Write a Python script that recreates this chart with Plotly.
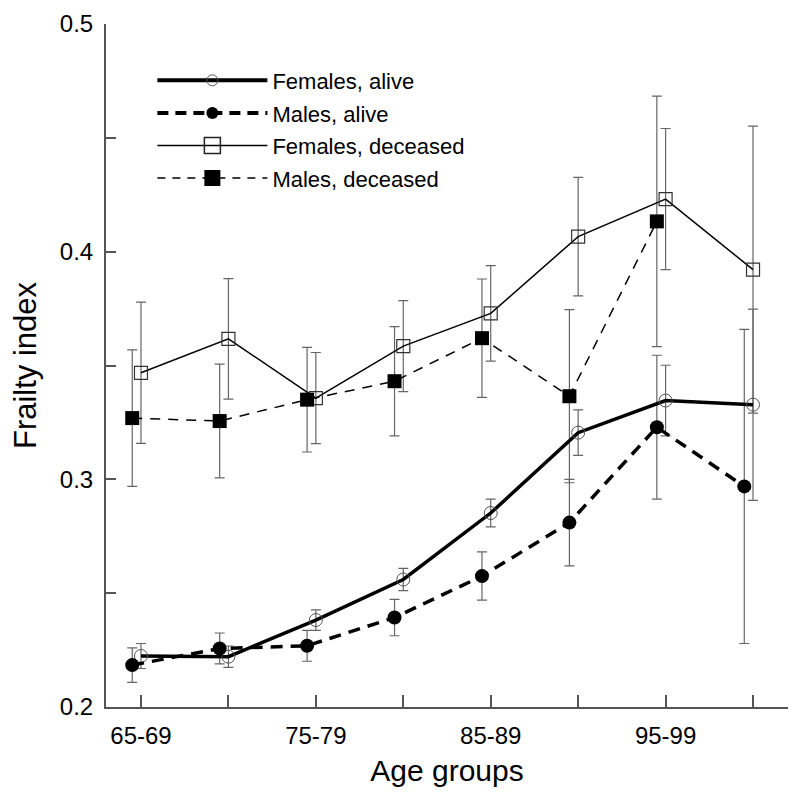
import numpy as np
import plotly.graph_objects as go

groups = ["65-69", "70-74", "75-79", "80-84", "85-89", "90-94", "95-99", "100+"]
x_labels = ["65-69", "", "75-79", "", "85-89", "", "95-99", ""]

female_alive = [0.2224, 0.2221, 0.2382, 0.2560, 0.2852, 0.3205, 0.3346, 0.3328]
female_alive_err = [0.0055, 0.0047, 0.0045, 0.0049, 0.0061, 0.0100, 0.0155, 0.042]
male_alive = [0.2184, 0.2257, 0.2269, 0.2393, 0.2575, 0.2810, 0.3229, 0.2969]
male_alive_err = [0.0076, 0.0068, 0.0068, 0.0080, 0.0106, 0.019, 0.0316, 0.069]
female_dec = [0.3468, 0.3617, 0.3357, 0.3585, 0.3729, 0.4066, 0.4231, 0.3921]
female_dec_err = [0.031, 0.0265, 0.020, 0.020, 0.021, 0.026, 0.031, 0.063]
male_dec = [0.3269, 0.3256, 0.3350, 0.3431, 0.3620, 0.3365, 0.4133]
male_dec_err = [0.030, 0.025, 0.023, 0.024, 0.026, 0.038, 0.055]

y_ticks = [0.2, 0.25, 0.3, 0.35, 0.4, 0.45, 0.5]
y_labels = ["0.2", "", "0.3", "", "0.4", "", "0.5"]

idx = np.arange(len(groups))
male_offset = -0.1
x_f = idx
x_m = idx + male_offset
x_md = np.arange(len(male_dec)) + male_offset

FONT = "Liberation Sans, Arial, sans-serif"
ERR_COLOR = "#666666"

fig = go.Figure()

# name, x, y, err, line, marker (plot), line (legend), marker (legend), rank
series = [
    ("Females, deceased", x_f, female_dec, female_dec_err,
     dict(color="black", width=1.5),
     dict(symbol="square-open", size=13, color="#333333", line=dict(width=1.2)),
     dict(color="black", width=1.5),
     dict(symbol="square-open", size=18, color="#222222", line=dict(width=1.5)), 3),
    ("Males, deceased", x_md, male_dec, male_dec_err,
     dict(color="black", width=1.5, dash="10px,8px"),
     dict(symbol="square", size=14, color="black"),
     dict(color="black", width=1.5, dash="8px,7px"),
     dict(symbol="square", size=18, color="black"), 4),
    ("Females, alive", x_f, female_alive, female_alive_err,
     dict(color="black", width=3.5),
     dict(symbol="circle-open", size=13, color="#555555", line=dict(width=1)),
     dict(color="black", width=4),
     dict(symbol="circle-open", size=11, color="#555555", line=dict(width=1)), 1),
    ("Males, alive", x_m, male_alive, male_alive_err,
     dict(color="black", width=3.5, dash="12px,8px"),
     dict(symbol="circle", size=14, color="black"),
     dict(color="black", width=4, dash="11px,7px"),
     dict(symbol="circle", size=12, color="black"), 2),
]

# error bars (no legend)
for name, xs, ys, es, ln, mk, lln, lmk, rank in series:
    fig.add_trace(go.Scatter(
        x=xs, y=ys, mode="markers", marker=dict(size=1, opacity=0),
        error_y=dict(type="data", array=es, visible=True, color=ERR_COLOR, thickness=1.2, width=5),
        showlegend=False, hoverinfo="skip"))

# data lines + markers
for name, xs, ys, es, ln, mk, lln, lmk, rank in series:
    fig.add_trace(go.Scatter(
        x=xs, y=ys, mode="lines+markers", name=name, line=ln, marker=mk,
        showlegend=False))

# legend entries
for name, xs, ys, es, ln, mk, lln, lmk, rank in series:
    fig.add_trace(go.Scatter(
        x=[None], y=[None], mode="lines+markers", name=name, line=lln, marker=lmk,
        legendrank=rank, legendgroup=name, showlegend=True))

fig.update_layout(
    width=800, height=800,
    paper_bgcolor="white", plot_bgcolor="white",
    margin=dict(l=98, r=20, t=16, b=101),
    font=dict(family=FONT, size=24, color="black"),
    showlegend=True,
    legend=dict(x=0.068, y=0.948, xanchor="left", yanchor="top",
                bgcolor="rgba(0,0,0,0)", font=dict(size=22), itemwidth=110,
                tracegroupgap=1, traceorder="grouped"),
    xaxis=dict(range=[-0.4, 7.4], tickmode="array", tickvals=list(idx), ticktext=x_labels,
               showline=True, linecolor="#555555", linewidth=2, mirror=False,
               ticks="inside", ticklen=12, tickwidth=1.5, tickcolor="#555555",
               showgrid=False, zeroline=False, tickfont=dict(size=24), automargin=False,
               ticklabelstandoff=6,
               title=dict(text="Age groups", font=dict(size=30), standoff=12)),
    yaxis=dict(range=[0.2, 0.5], tickmode="array", tickvals=y_ticks, ticktext=y_labels,
               showline=True, linecolor="#555555", linewidth=2, mirror=False,
               ticks="inside", ticklen=10, tickwidth=1.5, tickcolor="#555555",
               showgrid=False, zeroline=False, tickfont=dict(size=24), automargin=False,
               ticklabelstandoff=6,
               title=dict(text="Frailty index", font=dict(size=31), standoff=18)),
)

fig.write_html("out.html")
